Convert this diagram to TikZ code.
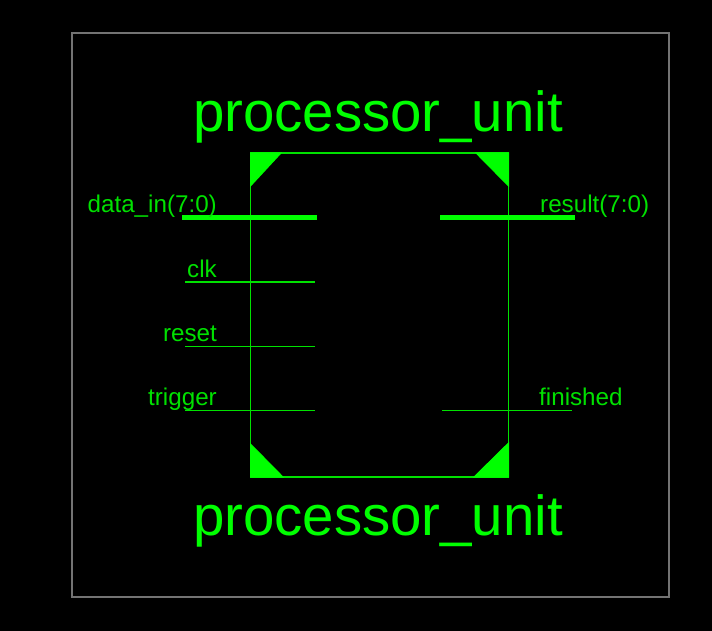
\documentclass[tikz,border=0pt]{standalone}
\usepackage{fontspec}
\setmainfont{Liberation Sans}
\definecolor{schemgreen}{RGB}{0,255,0}
\definecolor{wiregreen}{RGB}{0,225,0}
\definecolor{labelgreen}{RGB}{0,225,0}
\definecolor{framegray}{RGB}{115,115,115}
\tikzset{
  title/.style={schemgreen, inner sep=0pt, font=\fontsize{56.4}{60}\selectfont},
  pinlabel/.style={labelgreen, inner sep=0pt, font=\fontsize{24.2}{26}\selectfont},
  wire/.style={wiregreen, line width=1.5pt},
  bus/.style={schemgreen, line width=5pt},
  corner/.style={fill=schemgreen, draw=schemgreen, line width=1pt}
}
\begin{document}
\begin{tikzpicture}[x=1pt,y=-1pt]
    \fill [black] (0,0) rectangle (712,631);
    \useasboundingbox (0,0) rectangle (712,631);
    \draw [framegray, line width=1.2pt] (72,33) rectangle (669,597);
    % symbol
    \coordinate (tl) at (250.5,153);
    \coordinate (tr) at (508.5,153);
    \coordinate (bl) at (250.5,477);
    \coordinate (br) at (508.5,477);
    \draw [wire] (tl) -- (tr) -- (br) -- (bl) -- cycle;
    \draw [corner] (tl) -- (281,153) -- (250.5,186) -- cycle;
    \draw [corner] (tr) -- (476,153) -- (508.5,186) -- cycle;
    \draw [corner] (bl) -- (283,477) -- (250.5,444) -- cycle;
    \draw [corner] (br) -- (474,477) -- (508.5,443) -- cycle;
    \node [title, anchor=base] (nametop) at (378,132) {processor\_unit};
    \node [title, anchor=base] (namebot) at (378,535) {processor\_unit};
    % inputs
    \coordinate (datafrom) at (182,217.5);
    \coordinate (datato) at (317,217.5);
    \coordinate (clkfrom) at (185,282);
    \coordinate (clkto) at (315,282);
    \coordinate (resetfrom) at (185,346.5);
    \coordinate (resetto) at (315,346.5);
    \coordinate (trigfrom) at (185,410.5);
    \coordinate (trigto) at (315,410.5);
    \draw [bus] (datafrom) -- (datato);
    \draw [wire] (clkfrom) -- (clkto);
    \draw [wire] (resetfrom) -- (resetto);
    \draw [wire] (trigfrom) -- (trigto);
    \node [pinlabel, anchor=base east] (datalabel) at (217,212.5) {data\_in(7:0)};
    \node [pinlabel, anchor=base east] (clklabel) at (217,277) {clk};
    \node [pinlabel, anchor=base east] (resetlabel) at (217,341) {reset};
    \node [pinlabel, anchor=base east] (triglabel) at (217,405.5) {trigger};
    % outputs
    \coordinate (resultfrom) at (440,217.5);
    \coordinate (resultto) at (575,217.5);
    \coordinate (finfrom) at (442,410.5);
    \coordinate (finto) at (572,410.5);
    \draw [bus] (resultfrom) -- (resultto);
    \draw [wire] (finfrom) -- (finto);
    \node [pinlabel, anchor=base west] (resultlabel) at (540,212.5) {result(7:0)};
    \node [pinlabel, anchor=base west] (finlabel) at (539,405.5) {finished};
\end{tikzpicture}
\end{document}
